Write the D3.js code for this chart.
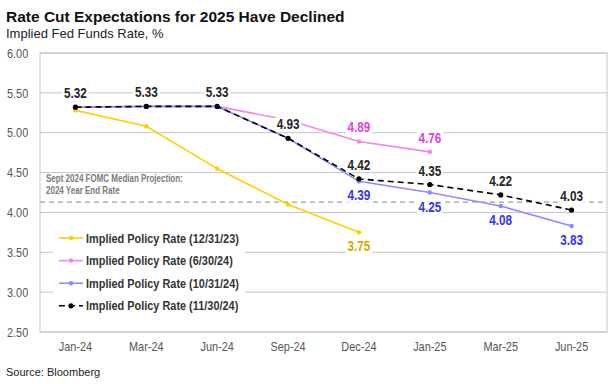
<!DOCTYPE html>
<html>
<head>
<meta charset="utf-8">
<script src="https://cdn.jsdelivr.net/npm/d3@7"></script>
<style>
  body { margin: 0; background: #fff; }
  text { font-family: "Liberation Sans", Arial, sans-serif; }
</style>
</head>
<body>
<svg id="drawing_region"></svg>
<script>
// data
const months = ["Jan-24", "Mar-24", "Jun-24", "Sep-24", "Dec-24", "Jan-25", "Mar-25", "Jun-25"];
const rateDec23 = [5.28, 5.08, 4.55, 4.10, 3.75, null, null, null];
const rateJun24 = [5.32, 5.33, 5.33, 5.16, 4.89, 4.76, null, null];
const rateOct24 = [5.32, 5.33, 5.33, 4.93, 4.39, 4.25, 4.08, 3.83];
const rateNov24 = [5.32, 5.33, 5.33, 4.93, 4.42, 4.35, 4.22, 4.03];
const yTicks = [2.5, 3.0, 3.5, 4.0, 4.5, 5.0, 5.5, 6.0];
const fomcProjection = 4.13;

const series = [
    { name: "Implied Policy Rate (12/31/23)", values: rateDec23, color: "#ffd000", labelColor: "#d6aa00", dash: null, labelFrom: 4, labelPos: "below", r: 2.3 },
    { name: "Implied Policy Rate (6/30/24)", values: rateJun24, color: "#ef88e6", labelColor: "#e23fdc", dash: null, labelFrom: 4, labelPos: "above", r: 2.3 },
    { name: "Implied Policy Rate (10/31/24)", values: rateOct24, color: "#8c8cff", labelColor: "#3434f2", dash: null, labelFrom: 4, labelPos: "below", r: 2.3 },
    { name: "Implied Policy Rate (11/30/24)", values: rateNov24, color: "#000000", labelColor: "#262626", dash: "6,4", labelFrom: 0, labelPos: "above", r: 2.6 }
];

const width = 616, height = 384;
const margin = { top: 53, right: 9, bottom: 52, left: 40 };
const innerW = width - margin.left - margin.right;
const innerH = height - margin.top - margin.bottom;
const squeeze = 0.84; // the source font is a narrow one

const svg = d3.select("#drawing_region")
    .attr("width", width)
    .attr("height", height);

svg.append("text")
    .attr("x", 6).attr("y", 22)
    .style("font-size", "15.5px").style("font-weight", "bold").style("fill", "#111")
    .text("Rate Cut Expectations for 2025 Have Declined");

svg.append("text")
    .attr("x", 6).attr("y", 38)
    .style("font-size", "13px").style("fill", "#222")
    .text("Implied Fed Funds Rate, %");

svg.append("text")
    .attr("x", 6).attr("y", 376)
    .style("font-size", "11px").style("fill", "#222")
    .text("Source: Bloomberg");

const chart = svg.append("g")
    .attr("transform", `translate(${margin.left}, ${margin.top})`);

const x = d3.scaleBand().domain(months).range([0, innerW]);
const y = d3.scaleLinear().domain([2.5, 6]).range([innerH, 0]);
const cx = m => x(m) + x.bandwidth() / 2;

// gridlines
chart.selectAll(".grid").data(yTicks).enter()
    .append("line")
    .attr("x1", 0).attr("x2", innerW)
    .attr("y1", d => y(d)).attr("y2", d => y(d))
    .style("stroke", "#c6c6c6").style("stroke-width", 1);

chart.append("rect")
    .attr("x", 0).attr("y", 0)
    .attr("width", innerW).attr("height", innerH)
    .style("fill", "none").style("stroke", "#c6c6c6");

// axes
const yaxis = chart.append("g")
    .call(d3.axisLeft(y).tickValues(yTicks).tickSize(0).tickPadding(14).tickFormat(d3.format(".2f")));
yaxis.select(".domain").remove();
yaxis.selectAll("text")
    .attr("transform", `scale(${squeeze},1)`)
    .style("font-size", "13px").style("fill", "#555");

const xaxis = chart.append("g")
    .attr("transform", `translate(0, ${innerH})`)
    .call(d3.axisBottom(x).tickSize(0).tickPadding(10));
xaxis.select(".domain").remove();
xaxis.selectAll("text")
    .attr("transform", `scale(${squeeze},1)`)
    .style("font-size", "13px").style("fill", "#555");

// FOMC projection annotation
chart.append("rect")
    .attr("x", 1).attr("y", 121)
    .attr("width", 150).attr("height", 25)
    .style("fill", "#fff");
chart.append("line")
    .attr("x1", 0).attr("x2", innerW)
    .attr("y1", y(fomcProjection)).attr("y2", y(fomcProjection))
    .style("stroke", "#a0a0a0").style("stroke-width", 1.2).style("stroke-dasharray", "5,4");
const note = chart.append("text")
    .attr("transform", `translate(6, 129) scale(0.8,1)`)
    .style("font-size", "10px").style("font-weight", "bold").style("fill", "#7a7a7a");
note.append("tspan").attr("x", 0).attr("y", 0).text("Sept 2024 FOMC Median Projection:");
note.append("tspan").attr("x", 0).attr("y", 12).text("2024 Year End Rate");

// lines and markers
const line = d3.line()
    .defined(d => d.v !== null)
    .x(d => cx(d.m))
    .y(d => y(d.v));

series.forEach(s => {
    const pts = months.map((m, i) => ({ m: m, v: s.values[i], i: i }));
    chart.append("path")
        .datum(pts)
        .attr("d", line)
        .style("fill", "none")
        .style("stroke", s.color)
        .style("stroke-width", 1.6)
        .style("stroke-dasharray", s.dash);
    chart.selectAll(null).data(pts.filter(d => d.v !== null)).enter()
        .append("circle")
        .attr("cx", d => cx(d.m))
        .attr("cy", d => y(d.v))
        .attr("r", s.r)
        .style("fill", s.color);
});

// data labels
series.forEach(s => {
    const pts = months.map((m, i) => ({ m: m, v: s.values[i], i: i }))
        .filter(d => d.v !== null && d.i >= s.labelFrom);
    pts.forEach(d => {
        const ty = s.labelPos === "above" ? y(d.v) - 9 : y(d.v) + 19;
        const g = chart.append("g")
            .attr("transform", `translate(${cx(d.m)}, ${ty}) scale(${squeeze},1)`);
        const t = g.append("text")
            .attr("text-anchor", "middle")
            .style("font-size", "14px").style("font-weight", "bold")
            .style("fill", s.labelColor)
            .text(d3.format(".2f")(d.v));
        const b = t.node().getBBox();
        g.insert("rect", "text")
            .attr("x", b.x - 2).attr("y", b.y + 1)
            .attr("width", b.width + 4).attr("height", b.height - 2)
            .style("fill", "#fff");
    });
});

// legend
const legend = chart.append("g").attr("transform", "translate(13, 175)");
legend.append("rect")
    .attr("x", 0).attr("y", 0)
    .attr("width", 192).attr("height", 89)
    .style("fill", "#fff");
series.forEach((s, i) => {
    const ly = 10 + i * 22.6;
    legend.append("line")
        .attr("x1", 6).attr("x2", 30)
        .attr("y1", ly).attr("y2", ly)
        .style("stroke", s.color).style("stroke-width", 1.6)
        .style("stroke-dasharray", s.dash);
    legend.append("circle")
        .attr("cx", 18).attr("cy", ly).attr("r", s.r)
        .style("fill", s.color);
    legend.append("text")
        .attr("transform", `translate(33, ${ly + 4.5}) scale(${squeeze},1)`)
        .style("font-size", "13px").style("font-weight", "bold").style("fill", "#333")
        .text(s.name);
});
</script>
</body>
</html>
